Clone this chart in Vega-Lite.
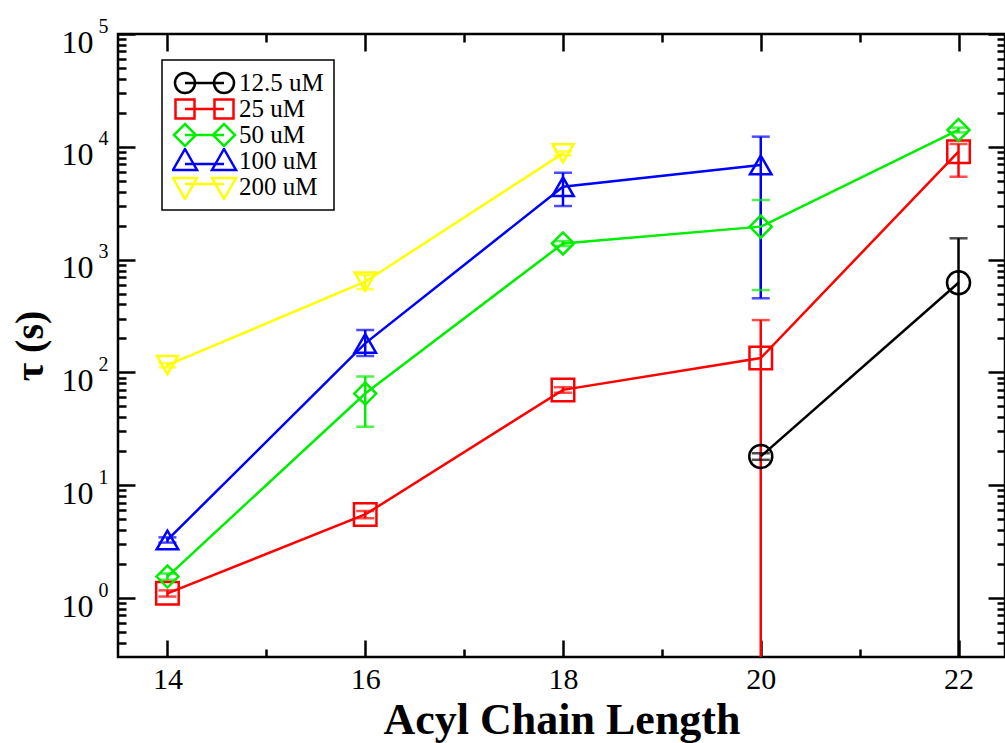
{
  "$schema": "https://vega.github.io/schema/vega-lite/v6.json",
  "autosize": "none",
  "padding": {"left": 118, "top": 34, "right": 0, "bottom": 86},
  "width": 887,
  "height": 623,
  "background": "white",
  "config": {
    "view": {"stroke": "black", "strokeWidth": 2.5},
    "font": "Liberation Serif",
    "axis": {
      "grid": false, "domain": false, "labelFont": "Liberation Serif", "titleFont": "Liberation Serif",
      "labelColor": "black", "titleColor": "black", "tickColor": "black", "tickWidth": 2.5,
      "labelFlush": false, "labelOverlap": false
    },
    "legend": {"strokeWidth": 1.5}
  },
  "data": {"values": [
    {"series": "12.5 uM", "x": 20, "y": 18, "lo": 16.8, "hi": 19.2},
    {"series": "12.5 uM", "x": 22, "y": 624, "lo": 0.001, "hi": 1545},
    {"series": "25 uM", "x": 14, "y": 1.1, "lo": 1.03, "hi": 1.17},
    {"series": "25 uM", "x": 16, "y": 5.5, "lo": 5.1, "hi": 5.9},
    {"series": "25 uM", "x": 18, "y": 70, "lo": 66, "hi": 74},
    {"series": "25 uM", "x": 20, "y": 134, "lo": 0.001, "hi": 291},
    {"series": "25 uM", "x": 22, "y": 9060, "lo": 5430, "hi": 10600},
    {"series": "50 uM", "x": 14, "y": 1.55, "lo": 1.45, "hi": 1.65},
    {"series": "50 uM", "x": 16, "y": 65, "lo": 33, "hi": 92},
    {"series": "50 uM", "x": 18, "y": 1390, "lo": 1320, "hi": 1460},
    {"series": "50 uM", "x": 20, "y": 1960, "lo": 537, "hi": 3375},
    {"series": "50 uM", "x": 22, "y": 14100, "lo": 13400, "hi": 14800},
    {"series": "100 uM", "x": 14, "y": 3.27, "lo": 3.1, "hi": 3.45},
    {"series": "100 uM", "x": 16, "y": 181, "lo": 140, "hi": 238},
    {"series": "100 uM", "x": 18, "y": 4430, "lo": 2985, "hi": 5890},
    {"series": "100 uM", "x": 20, "y": 6900, "lo": 454, "hi": 12300},
    {"series": "200 uM", "x": 14, "y": 116, "lo": 111, "hi": 121},
    {"series": "200 uM", "x": 16, "y": 637, "lo": 545, "hi": 730},
    {"series": "200 uM", "x": 18, "y": 8750, "lo": 8400, "hi": 9100}
  ]},
  "resolve": {
    "axis": {"x": "independent", "y": "independent"},
    "scale": {"color": "independent", "shape": "independent", "size": "independent"},
    "legend": {"color": "independent", "shape": "independent"}
  },
  "layer": [
    {
      "mark": {"type": "rule", "strokeWidth": 2.5, "clip": true},
      "encoding": {
        "x": {"field": "x", "type": "quantitative", "scale": {"domain": [13.5, 22.47], "nice": false, "zero": false},
          "axis": {"orient": "bottom", "values": [14, 16, 18, 20, 22], "format": "d", "ticks": false, "labelFontSize": 30, "labelPadding": 7,
            "title": "Acyl Chain Length", "titleFontSize": 44, "titleFontWeight": "bold", "titlePadding": 4}},
        "y": {"field": "hi", "type": "quantitative", "scale": {"type": "log", "domain": [0.3, 100000], "nice": false},
          "axis": {"orient": "left", "values": [1, 10, 100, 1000, 10000, 100000], "labelExpr": "'10'", "ticks": false, "labelFontSize": 32,
            "labelPadding": 25, "labelOffset": 8, "title": "τ (s)", "titleFontSize": 40, "titleFontWeight": "bold", "titlePadding": 11}},
        "y2": {"field": "lo"},
        "color": {"field": "series", "type": "nominal", "scale": {"domain": ["12.5 uM", "25 uM", "50 uM", "100 uM", "200 uM"], "range": ["#000000", "#ff0000", "#00ee00", "#0000ff", "#ffff00"]}, "legend": null}
      }
    },
    {
      "mark": {"type": "tick", "orient": "horizontal", "size": 18, "thickness": 2.5, "clip": true},
      "encoding": {
        "x": {"field": "x", "type": "quantitative",
          "axis": {"orient": "bottom", "values": [14, 15, 16, 17, 18, 19, 20, 21, 22], "labels": false, "title": null,
            "tickSize": {"condition": {"test": "datum.value % 2 == 0", "value": -17}, "value": -8}}},
        "y": {"field": "hi", "type": "quantitative",
          "axis": {"orient": "left", "labels": false, "title": null,
            "values": [0.4, 0.5, 0.6, 0.7, 0.8, 0.9, 1, 2, 3, 4, 5, 6, 7, 8, 9, 10, 20, 30, 40, 50, 60, 70, 80, 90, 100, 200, 300, 400, 500, 600, 700, 800, 900, 1000, 2000, 3000, 4000, 5000, 6000, 7000, 8000, 9000, 10000, 20000, 30000, 40000, 50000, 60000, 70000, 80000, 90000, 100000],
            "tickSize": {"condition": {"test": "abs(log(datum.value)/LN10 - round(log(datum.value)/LN10)) < 0.001", "value": -17}, "value": -8}}},
        "color": {"field": "series", "type": "nominal", "scale": {"domain": ["12.5 uM", "25 uM", "50 uM", "100 uM", "200 uM"], "range": ["#000000", "#ff0000", "#00ee00", "#0000ff", "#ffff00"]}, "legend": null}
      }
    },
    {
      "mark": {"type": "tick", "orient": "horizontal", "size": 18, "thickness": 2.5, "clip": true},
      "encoding": {
        "x": {"field": "x", "type": "quantitative",
          "axis": {"orient": "top", "values": [14, 15, 16, 17, 18, 19, 20, 21, 22], "labels": false, "title": null,
            "tickSize": {"condition": {"test": "datum.value % 2 == 0", "value": -17}, "value": -8}}},
        "y": {"field": "lo", "type": "quantitative",
          "axis": {"orient": "right", "labels": false, "title": null,
            "values": [0.4, 0.5, 0.6, 0.7, 0.8, 0.9, 1, 2, 3, 4, 5, 6, 7, 8, 9, 10, 20, 30, 40, 50, 60, 70, 80, 90, 100, 200, 300, 400, 500, 600, 700, 800, 900, 1000, 2000, 3000, 4000, 5000, 6000, 7000, 8000, 9000, 10000, 20000, 30000, 40000, 50000, 60000, 70000, 80000, 90000, 100000],
            "tickSize": {"condition": {"test": "abs(log(datum.value)/LN10 - round(log(datum.value)/LN10)) < 0.001", "value": -17}, "value": -8}}},
        "color": {"field": "series", "type": "nominal", "scale": {"domain": ["12.5 uM", "25 uM", "50 uM", "100 uM", "200 uM"], "range": ["#000000", "#ff0000", "#00ee00", "#0000ff", "#ffff00"]}, "legend": null}
      }
    },
    {
      "mark": {"type": "line", "strokeWidth": 2.5},
      "encoding": {
        "x": {"field": "x", "type": "quantitative", "axis": null},
        "y": {"field": "y", "type": "quantitative",
          "axis": {"orient": "left", "values": [1, 10, 100, 1000, 10000, 100000], "ticks": false, "title": null,
            "labelExpr": "'' + round(log(datum.value)/LN10)", "labelFontSize": 20, "labelPadding": 10, "labelOffset": -8}},
        "color": {"field": "series", "type": "nominal", "scale": {"domain": ["12.5 uM", "25 uM", "50 uM", "100 uM", "200 uM"], "range": ["#000000", "#ff0000", "#00ee00", "#0000ff", "#ffff00"]}, "legend": null}
      }
    },
    {
      "mark": {"type": "point", "filled": false, "strokeWidth": 2.5, "opacity": 1},
      "encoding": {
        "x": {"field": "x", "type": "quantitative", "axis": null},
        "y": {"field": "y", "type": "quantitative", "axis": null},
        "color": {"field": "series", "type": "nominal", "scale": {"domain": ["12.5 uM", "25 uM", "50 uM", "100 uM", "200 uM"], "range": ["#000000", "#ff0000", "#00ee00", "#0000ff", "#ffff00"]}, "legend": null},
        "shape": {"field": "series", "type": "nominal", "scale": {"domain": ["12.5 uM", "25 uM", "50 uM", "100 uM", "200 uM"], "range": ["circle", "square", "diamond", "triangle-up", "triangle-down"]}, "legend": null},
        "size": {"field": "series", "type": "nominal", "scale": {"domain": ["12.5 uM", "25 uM", "50 uM", "100 uM", "200 uM"], "range": [529, 441, 484, 676, 676]}, "legend": null}
      }
    },
    {
      "transform": [{"filter": "datum.x > 100"}],
      "mark": {"type": "point", "filled": false, "strokeWidth": 2.5},
      "encoding": {
        "x": {"field": "x", "type": "quantitative", "axis": null},
        "y": {"field": "y", "type": "quantitative", "axis": null},
        "color": {"field": "series", "type": "nominal", "scale": {"domain": ["12.5 uM", "25 uM", "50 uM", "100 uM", "200 uM"], "range": ["#000000", "#ff0000", "#00ee00", "#0000ff", "#ffff00"]},
          "legend": {"orient": "none", "legendX": 44, "legendY": 26, "title": null, "symbolSize": 400, "symbolStrokeWidth": 2.5, "symbolOffset": 20, "labelOffset": 22, "labelFontSize": 25, "labelFont": "Liberation Serif", "labelColor": "black", "strokeColor": "black", "fillColor": "white", "padding": 10, "rowPadding": 0, "clipHeight": 26, "symbolFillColor": "transparent", "symbolOpacity": 1}},
        "shape": {"field": "series", "type": "nominal", "scale": {"domain": ["12.5 uM", "25 uM", "50 uM", "100 uM", "200 uM"], "range": [
          "M-2.95,0 A1,1 0 1,0 -0.95,0 A1,1 0 1,0 -2.95,0 M0.95,0 A1,1 0 1,0 2.95,0 A1,1 0 1,0 0.95,0 M-1.95,0 L1.95,0",
          "M-2.9,-0.95 L-1,-0.95 L-1,0.95 L-2.9,0.95 Z M1,-0.95 L2.9,-0.95 L2.9,0.95 L1,0.95 Z M-1.95,0 L1.95,0",
          "M-3.05,0 L-1.95,-1.1 L-0.85,0 L-1.95,1.1 Z M0.85,0 L1.95,-1.1 L3.05,0 L1.95,1.1 Z M-1.95,0 L1.95,0",
          "M-1.95,-1.2 L-0.75,0.9 L-3.15,0.9 Z M1.95,-1.2 L3.15,0.9 L0.75,0.9 Z M-1.95,0.3 L1.95,0.3",
          "M-1.95,1.2 L-0.75,-0.9 L-3.15,-0.9 Z M1.95,1.2 L3.15,-0.9 L0.75,-0.9 Z M-1.95,-0.3 L1.95,-0.3"]},
          "legend": {"orient": "none", "legendX": 44, "legendY": 26, "title": null, "symbolSize": 400, "symbolStrokeWidth": 2.5, "symbolOffset": 20, "labelOffset": 22, "labelFontSize": 25, "labelFont": "Liberation Serif", "labelColor": "black", "strokeColor": "black", "fillColor": "white", "padding": 10, "rowPadding": 0, "clipHeight": 26, "symbolFillColor": "transparent", "symbolOpacity": 1}}
      }
    }
  ]
}
